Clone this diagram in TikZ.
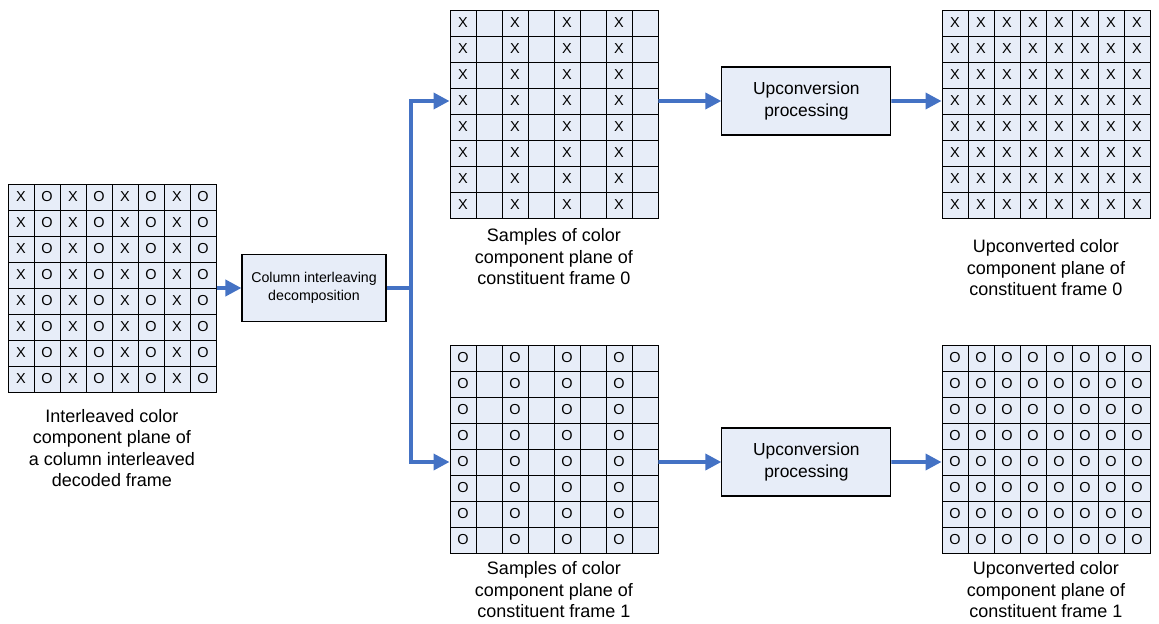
\documentclass[tikz,border=0pt]{standalone}
\usepackage{fontspec}
\setmainfont{Liberation Sans}
\usetikzlibrary{positioning,arrows.meta,fit}
\definecolor{cellfill}{HTML}{E7EDF8}
\definecolor{flowblue}{HTML}{4472C4}

\begin{document}
\begin{tikzpicture}[
    >={Triangle[length=0.4cm,width=0.4cm]},
    cell/.style={
        draw=black,
        fill=cellfill,
        line width=0.7pt,
        minimum size=0.65cm,
        inner sep=0pt,
        font=\fontsize{10.3}{12}\selectfont,
    },
    procbox/.style={
        draw=black,
        fill=cellfill,
        line width=0.8pt,
        align=center,
        inner sep=0pt,
    },
    gridbox/.style={inner sep=0pt},
    flow/.style={->,line width=2.6pt,color=flowblue},
    caption/.style={align=center,font=\fontsize{12.8}{15.3}\selectfont},
]
\useasboundingbox (0,0) rectangle (28.975,15.575);

% === Interleaved decoded frame ===
\foreach \r in {1,...,8} {
    \foreach \c in {1,...,8} {
        \node[cell] (a-\r-\c) at ({0.2+0.65*\c-0.325},{10.975-0.65*\r+0.325}) {\ifodd\c X\else O\fi};
    }
}
\node[gridbox,fit=(a-1-1)(a-8-8)] (framein) {};
\node[caption] (capin) at (2.8,4.375) {
    Interleaved color\\component plane of\\a column interleaved\\decoded frame
};

% === Decomposition ===
\node[procbox,minimum width=3.6cm,minimum height=1.675cm,
      font=\fontsize{10.1}{12.8}\selectfont] (decomp) at (7.85,8.375) {
    Column interleaving\\decomposition
};
\coordinate (fork) at (10.27,8.375);

% === Constituent frame 0 ===
\foreach \r in {1,...,8} {
    \foreach \c in {1,...,8} {
        \node[cell] (b-\r-\c) at ({11.25+0.65*\c-0.325},{15.325-0.65*\r+0.325}) {\ifodd\c X\fi};
    }
}
\node[caption] (capb) at (13.85,9.15) {
    Samples of color\\component plane of\\constituent frame 0
};

% === Constituent frame 1 ===
\foreach \r in {1,...,8} {
    \foreach \c in {1,...,8} {
        \node[cell] (c-\r-\c) at ({11.25+0.65*\c-0.325},{6.95-0.65*\r+0.325}) {\ifodd\c O\fi};
    }
}
\node[caption] (capc) at (13.85,0.825) {
    Samples of color\\component plane of\\constituent frame 1
};

% === Upconversion ===
\node[procbox,minimum width=4.225cm,minimum height=1.7cm,
      font=\fontsize{12.4}{16.3}\selectfont] (upconv0) at (20.16,13.05) {
    Upconversion\\processing
};
\node[procbox,minimum width=4.225cm,minimum height=1.7cm,
      font=\fontsize{12.4}{16.3}\selectfont] (upconv1) at (20.16,4.025) {
    Upconversion\\processing
};

% === Upconverted frames ===
\foreach \r in {1,...,8} {
    \foreach \c in {1,...,8} {
        \node[cell] (d-\r-\c) at ({23.55+0.65*\c-0.325},{15.325-0.65*\r+0.325}) {X};
        \node[cell] (e-\r-\c) at ({23.55+0.65*\c-0.325},{6.95-0.65*\r+0.325}) {O};
    }
}
\node[caption] (capd) at (26.15,8.875) {
    Upconverted color\\component plane of\\constituent frame 0
};
\node[caption] (cape) at (26.15,0.825) {
    Upconverted color\\component plane of\\constituent frame 1
};

% === Arrows ===
\draw[flow] (framein.east) -- (decomp.west);
\draw[flow] (decomp.east) -- (fork) |- (b-4-1.west);
\draw[flow] (fork) |- (c-5-1.west);

\draw[flow] (b-4-8.east) -- (upconv0.west);
\draw[flow] (upconv0.east) -- (d-4-1.west);
\draw[flow] (c-5-8.east) -- (upconv1.west);
\draw[flow] (upconv1.east) -- (e-5-1.west);

\end{tikzpicture}
\end{document}
